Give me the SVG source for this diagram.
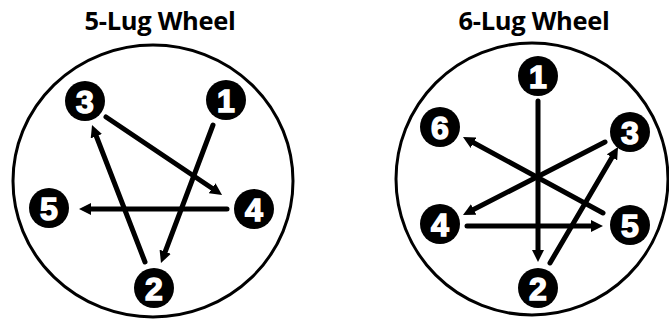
<svg xmlns="http://www.w3.org/2000/svg" width="669" height="320" viewBox="0 0 669 320">
<defs>
<style>
.title{font-family:"Open Sans","Liberation Sans",sans-serif;font-weight:bold;font-size:25.5px;fill:#000;text-anchor:middle;letter-spacing:-0.3px}
.rim{fill:none;stroke:#000;stroke-width:3}
.lug circle{fill:#000}
.lug text{font-family:"Liberation Sans",Arial,sans-serif;font-weight:bold;font-size:32px;fill:#fff;stroke:#fff;stroke-width:1.5;text-anchor:middle}
.arr{stroke:#000;stroke-width:5;stroke-linecap:round;fill:none;marker-end:url(#head)}
</style>
<marker id="head" viewBox="0 0 12 12" markerWidth="12" markerHeight="12" refX="4" refY="6" orient="auto" markerUnits="userSpaceOnUse">
<path d="M0,0 L12,6 L0,12 z" fill="#000"/>
</marker>
</defs>
<rect width="669" height="320" fill="#fff"/>
<text class="title" x="160" y="30">5-Lug Wheel</text>
<text class="title" x="534" y="30">6-Lug Wheel</text>
<ellipse id="rim5" class="rim" cx="153" cy="181" rx="140" ry="136"/>
<ellipse id="rim6" class="rim" cx="532" cy="179" rx="136" ry="136"/>
<g id="connectors">
<line class="arr" x1="213" y1="125" x2="163.8" y2="255.5"/>
<line class="arr" x1="145" y1="262" x2="94.9" y2="132.5"/>
<line class="arr" x1="106" y1="117" x2="215.4" y2="190.5"/>
<line class="arr" x1="227" y1="209" x2="87" y2="209"/>
<line class="arr" x1="538" y1="101" x2="538" y2="254"/>
<line class="arr" x1="550" y1="263" x2="614" y2="153.9"/>
<line class="arr" x1="605" y1="142" x2="470.1" y2="211.3"/>
<line class="arr" x1="467" y1="226" x2="595" y2="226"/>
<line class="arr" x1="603" y1="213" x2="470" y2="140.8"/>
</g>
<g id="l5-1" class="lug"><circle cx="226" cy="100" r="20"/><text x="226" y="111.5">1</text></g>
<g id="l5-2" class="lug"><circle cx="154" cy="288" r="20"/><text x="154" y="299.5">2</text></g>
<g id="l5-3" class="lug"><circle cx="85" cy="101" r="20"/><text x="85" y="112.5">3</text></g>
<g id="l5-4" class="lug"><circle cx="254" cy="209" r="20"/><text x="254" y="220.5">4</text></g>
<g id="l5-5" class="lug"><circle cx="49" cy="208" r="20"/><text x="49" y="219.5">5</text></g>
<g id="l6-1" class="lug"><circle cx="538" cy="76" r="20"/><text x="538" y="87.5">1</text></g>
<g id="l6-2" class="lug"><circle cx="538" cy="288" r="20"/><text x="538" y="299.5">2</text></g>
<g id="l6-3" class="lug"><circle cx="630" cy="132" r="20"/><text x="630" y="143.5">3</text></g>
<g id="l6-4" class="lug"><circle cx="440" cy="224" r="20"/><text x="440" y="235.5">4</text></g>
<g id="l6-5" class="lug"><circle cx="630" cy="225" r="20"/><text x="630" y="236.5">5</text></g>
<g id="l6-6" class="lug"><circle cx="440" cy="127" r="20"/><text x="440" y="138.5">6</text></g>
</svg>
